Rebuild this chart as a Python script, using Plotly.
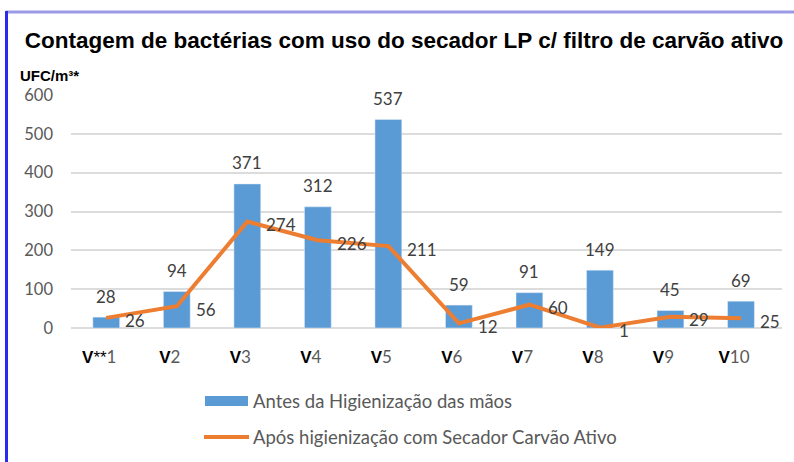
import plotly.graph_objects as go

categorias = ["V**1", "V2", "V3", "V4", "V5", "V6", "V7", "V8", "V9", "V10"]
antes = [28, 94, 371, 312, 537, 59, 91, 149, 45, 69]
apos = [26, 56, 274, 226, 211, 12, 60, 1, 29, 25]
y_ticks = [0, 100, 200, 300, 400, 500, 600]

titulo = "Contagem de bactérias com uso do secador LP c/ filtro de carvão ativo"
unidade = "UFC/m³*"
nome_antes = "Antes da Higienização das mãos"
nome_apos = "Após higienização com Secador Carvão Ativo"

BLUE = "#5b9bd5"
ORANGE = "#ed7d31"
GRAY = "#595959"
LABEL = "#404040"
BODY_FONT = "Lato"
BOLD_FONT = "Liberation Sans"


def tick_html(c):
    pref = "V**" if c.startswith("V**") else "V"
    num = c[len(pref):]
    head = "<b>V</b>**" if pref == "V**" else "<b>V</b>"
    return (f"<span style='color:#000000;font-family:{BOLD_FONT}'>{head}</span>"
            f"{num}")

ticktext = [tick_html(c) for c in categorias]

fig = go.Figure()
fig.add_trace(go.Bar(x=categorias, y=antes, marker_color=BLUE, name=nome_antes,
                     showlegend=False))
fig.add_trace(go.Scatter(x=categorias, y=apos, mode="lines", name=nome_apos,
                         line=dict(color=ORANGE, width=4), showlegend=False))

annotations = []
for c, v in zip(categorias, antes):
    annotations.append(dict(x=c, y=v, xref="x", yref="y", text=str(v), showarrow=False,
                            yanchor="middle", yshift=21,
                            font=dict(family=BODY_FONT, size=17, color=LABEL)))
for c, v in zip(categorias, apos):
    annotations.append(dict(x=c, y=v, xref="x", yref="y", text=str(v), showarrow=False,
                            xanchor="left", yanchor="middle", xshift=17, yshift=-3,
                            font=dict(family=BODY_FONT, size=17, color=LABEL)))

# plot area geometry helpers (pixels -> paper)
L, R, T, B = 71, 12, 95, 134
W, H = 794, 462
PW, PH = W - L - R, H - T - B
def px(x):
    return (x - L) / PW
def py(y):
    return (H - B - y) / PH

annotations.append(dict(x=px(18), y=py(75), xref="paper", yref="paper", text=f"<b>{unidade}</b>",
                        showarrow=False, xanchor="left", yanchor="middle",
                        font=dict(family=BOLD_FONT, size=15, color="#000000")))
annotations.append(dict(x=px(251), y=py(401), xref="paper", yref="paper", text=nome_antes,
                        showarrow=False, xanchor="left", yanchor="middle",
                        font=dict(family=BODY_FONT, size=18.5, color=GRAY)))
annotations.append(dict(x=px(251), y=py(437), xref="paper", yref="paper", text=nome_apos,
                        showarrow=False, xanchor="left", yanchor="middle",
                        font=dict(family=BODY_FONT, size=18.5, color=GRAY)))

shapes = [
    dict(type="rect", xref="paper", yref="paper", x0=px(205), x1=px(248), y0=py(406), y1=py(396),
         fillcolor=BLUE, line=dict(width=0)),
    dict(type="line", xref="paper", yref="paper", x0=px(204), x1=px(249), y0=py(437), y1=py(437),
         line=dict(color=ORANGE, width=4)),
    dict(type="line", xref="paper", yref="paper", x0=px(6), x1=px(794), y0=py(12), y1=py(12),
         line=dict(color="#9a9ae6", width=3)),
    dict(type="line", xref="paper", yref="paper", x0=px(6.5), x1=px(6.5), y0=py(11), y1=py(462),
         line=dict(color="#2b2bf0", width=3)),
]

fig.update_layout(
    width=W, height=H,
    margin=dict(l=L, r=R, t=T, b=B),
    paper_bgcolor="white", plot_bgcolor="white",
    bargap=0.62,
    title=dict(text=f"<b>{titulo}</b>", x=404 / W, xref="container", xanchor="center",
               y=1 - 40 / H, yref="container", yanchor="middle",
               font=dict(family=BOLD_FONT, size=22.5, color="#000000")),
    xaxis=dict(tickmode="array", tickvals=categorias, ticktext=ticktext,
               showgrid=False, showline=False, zeroline=False,
               ticks="", ticklabelstandoff=17, ticklabelshift=-7,
               tickfont=dict(family=BODY_FONT, size=17, color=GRAY)),
    yaxis=dict(range=[0, 600], tickvals=y_ticks, showgrid=True, gridcolor="#dcdcdc",
               gridwidth=2, zeroline=True, zerolinecolor="#dcdcdc", zerolinewidth=2,
               showline=False, ticks="", ticklabelstandoff=17,
               tickfont=dict(family=BODY_FONT, size=16.5, color=GRAY)),
    annotations=annotations,
    shapes=shapes,
)

fig.write_html("out.html", config={"displayModeBar": False},
               post_script="document.body.style.margin='0px';")
